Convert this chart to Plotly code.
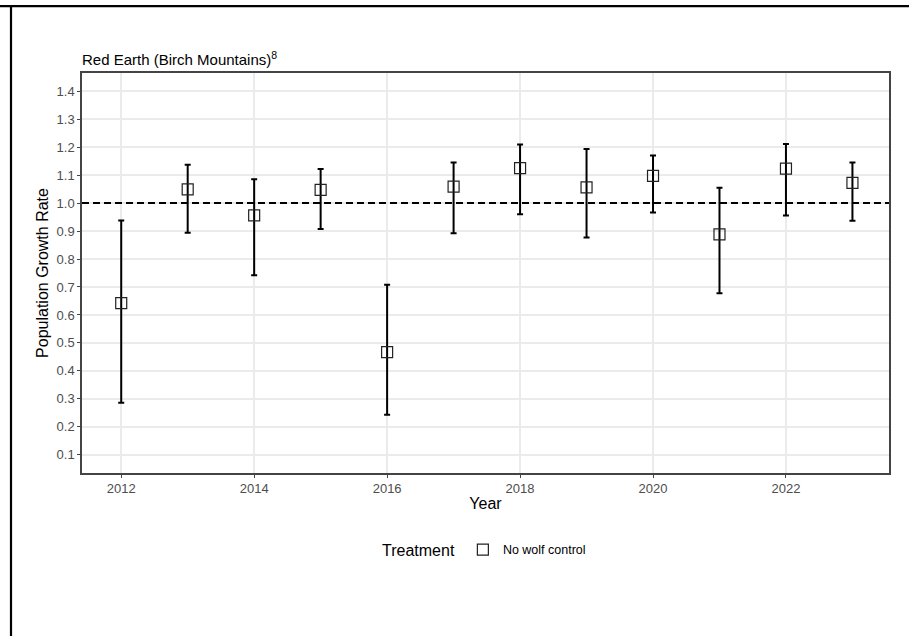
import plotly.graph_objects as go

# Annual population growth rate estimates with confidence limits
years = [2012, 2013, 2014, 2015, 2016, 2017, 2018, 2019, 2020, 2021, 2022, 2023]
growth = [0.642, 1.049, 0.956, 1.047, 0.467, 1.059, 1.125, 1.056, 1.097, 0.888, 1.123, 1.072]
upper = [0.938, 1.137, 1.085, 1.122, 0.708, 1.145, 1.209, 1.193, 1.170, 1.055, 1.211, 1.145]
lower = [0.286, 0.894, 0.742, 0.907, 0.243, 0.892, 0.960, 0.877, 0.966, 0.678, 0.956, 0.937]
treatment = "No wolf control"

y_ticks = [0.1, 0.2, 0.3, 0.4, 0.5, 0.6, 0.7, 0.8, 0.9, 1.0, 1.1, 1.2, 1.3, 1.4]
x_ticks = [2012, 2014, 2016, 2018, 2020, 2022]

W, H = 909, 636
L, R, T, B = 82, 889, 73, 473.5
pw, ph = R - L, B - T


def px_x(p):
    return (p - L) / pw


def px_y(p):
    return (B - p) / ph


err_plus = [u - g for u, g in zip(upper, growth)]
err_minus = [g - l for g, l in zip(growth, lower)]

FONT = "Liberation Sans, Arial, sans-serif"

fig = go.Figure()
fig.add_trace(go.Scatter(
    x=years, y=growth, mode="markers", name=treatment,
    marker=dict(symbol="square-open", size=11, color="#222222",
                line=dict(width=1.2, color="#222222")),
    error_y=dict(type="data", symmetric=False, array=err_plus,
                 arrayminus=err_minus, color="black", thickness=2, width=3),
    showlegend=True,
))

# Reference line at a growth rate of 1
fig.add_shape(type="line", xref="paper", x0=0, x1=1, yref="y", y0=1.0, y1=1.0,
              line=dict(color="black", width=2, dash="7px,4px"), layer="above")

# Outer frame lines along the top and left edges
fig.add_shape(type="line", xref="paper", yref="paper",
              x0=px_x(0), x1=px_x(W), y0=px_y(6), y1=px_y(6),
              line=dict(color="black", width=2.2))
fig.add_shape(type="line", xref="paper", yref="paper",
              x0=px_x(11), x1=px_x(11), y0=px_y(6), y1=px_y(H + 5),
              line=dict(color="black", width=2.2))

fig.add_annotation(text="Red Earth (Birch Mountains)<sup>8</sup>", xref="paper", yref="paper",
                   x=px_x(80), y=px_y(58), xanchor="left", yanchor="middle",
                   showarrow=False, font=dict(family=FONT, size=15, color="black"))

fig.update_layout(
    width=W, height=H,
    margin=dict(l=L, r=W - R, t=T, b=H - B, pad=0),
    paper_bgcolor="white", plot_bgcolor="white",
    font=dict(family=FONT),
    showlegend=True,
    legend=dict(orientation="h", x=0.5, xanchor="center", y=px_y(551), yanchor="middle",
                title=dict(text="Treatment", side="left",
                           font=dict(family=FONT, size=16, color="black")),
                font=dict(family=FONT, size=12.5, color="black"),
                itemwidth=30, bgcolor="rgba(0,0,0,0)"),
    xaxis=dict(range=[2011.41, 2023.55], tickvals=x_ticks,
               ticktext=[str(v) for v in x_ticks],
               showgrid=True, gridcolor="#EBEBEB", gridwidth=1.6,
               zeroline=False, showline=True, mirror=True,
               linecolor="#444444", linewidth=1.5,
               ticks="outside", ticklen=3, tickcolor="#444444", tickwidth=1.2,
               tickfont=dict(family=FONT, size=13, color="#4D4D4D"),
               title=dict(text="Year", standoff=2,
                          font=dict(family=FONT, size=16, color="black"))),
    yaxis=dict(range=[0.035, 1.465], tickvals=y_ticks,
               ticktext=[f"{v:.1f}" for v in y_ticks],
               showgrid=True, gridcolor="#EBEBEB", gridwidth=1.6,
               zeroline=False, showline=True, mirror=True,
               linecolor="#444444", linewidth=1.5,
               ticks="outside", ticklen=3, tickcolor="#444444", tickwidth=1.2,
               tickfont=dict(family=FONT, size=13, color="#4D4D4D"),
               title=dict(text="Population Growth Rate", standoff=4,
                          font=dict(family=FONT, size=16, color="black"))),
)

fig.write_html("out.html")
